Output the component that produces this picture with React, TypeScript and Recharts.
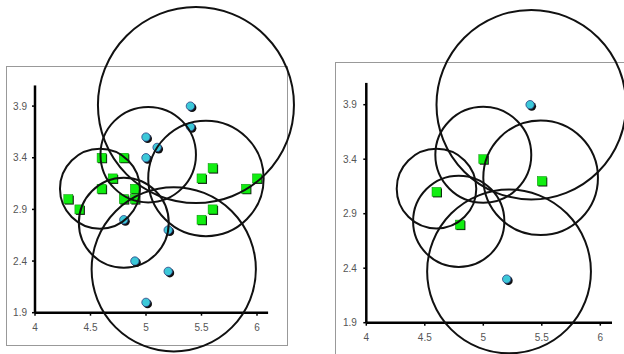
// Two scatter panels: all points with cluster circles (left), centroids only (right)

import { ScatterChart, Scatter, XAxis, YAxis } from 'recharts';

const X_TICKS = [4, 4.5, 5, 5.5, 6];
const Y_TICKS = [1.9, 2.4, 2.9, 3.4, 3.9];
const X_MAX = 6.1;
const Y_MAX = 4.1;

// left panel: all samples
const leftCyanX = [5.4, 5.4, 5.0, 5.1, 5.0, 4.8, 5.2, 4.9, 5.2, 5.0];
const leftCyanY = [3.9, 3.7, 3.6, 3.5, 3.4, 2.8, 2.7, 2.4, 2.3, 2.0];
const leftGreenX = [4.6, 4.8, 4.7, 4.6, 4.9, 4.3, 4.8, 4.9, 4.4, 5.5, 5.6, 6.0, 5.9, 5.6, 5.5];
const leftGreenY = [3.4, 3.4, 3.2, 3.1, 3.1, 3.0, 3.0, 3.0, 2.9, 3.2, 3.3, 3.2, 3.1, 2.9, 2.8];
const leftCircleX = [5.45, 5.02, 5.54, 4.585, 4.8, 5.25];
const leftCircleY = [3.91, 3.43, 3.2, 3.1, 2.77, 2.32];
const leftCircleR = [0.883, 0.43, 0.52, 0.36, 0.405, 0.74];

// right panel: centroids
const rightCyanX = [5.4, 5.2];
const rightCyanY = [3.9, 2.3];
const rightGreenX = [5.0, 5.5, 4.6, 4.8];
const rightGreenY = [3.4, 3.2, 3.1, 2.8];
const rightCircleX = [5.41, 5.0, 5.49, 4.6, 4.79, 5.22];
const rightCircleY = [3.9, 3.44, 3.23, 3.13, 2.83, 2.37];
const rightCircleR = [0.81, 0.41, 0.49, 0.34, 0.39, 0.7];

const pts = (xs: number[], ys: number[]) => xs.map((x, i) => ({ x, y: ys[i] }));
const rings = (xs: number[], ys: number[], rs: number[]) =>
  xs.map((x, i) => ({ x, y: ys[i], r: rs[i] }));

const tickStyle = { fill: '#555', fontSize: 10, fontFamily: '"Liberation Sans", Arial, sans-serif' };

function CyanDot(props: any) {
  const { cx, cy } = props;
  return (
    <g>
      <circle cx={cx + 1.6} cy={cy + 1.6} r={4.4} fill="#111" />
      <circle cx={cx} cy={cy} r={4.2} fill="#3cc8d8" stroke="#2a3f80" strokeWidth={0.8} />
    </g>
  );
}

function GreenSquare(props: any) {
  const { cx, cy } = props;
  return (
    <g>
      <rect x={cx - 3.5} y={cy - 3.5} width={9} height={9} fill="#111" />
      <rect x={cx - 4.5} y={cy - 4.5} width={9} height={9} fill="#11ee11" stroke="#0b8a0b" strokeWidth={0.5} />
    </g>
  );
}

interface PanelProps {
  left: number;
  originX: number;
  originY: number;
  pxX: number;
  pxY: number;
  cyan: { x: number; y: number }[];
  green: { x: number; y: number }[];
  circles: { x: number; y: number; r: number }[];
  labelGap: number;
}

function Panel({ left, originX, originY, pxX, pxY, cyan, green, circles, labelGap }: PanelProps) {
  const W = 312;
  const H = 354;
  const top = originY - (Y_MAX - 1.9) * pxY;
  const right = W - (originX + (X_MAX - 4) * pxX);
  const bottom = H - originY - 30;

  const Ring = (p: any) => (
    <circle cx={p.cx} cy={p.cy} r={p.payload.r * pxX} fill="none" stroke="#111" strokeWidth={2} />
  );

  return (
    <div style={{ position: 'absolute', left, top: 0 }}>
      <ScatterChart width={W} height={H} margin={{ top, right, bottom, left: 0 }}>
        <XAxis
          type="number"
          dataKey="x"
          domain={[4, X_MAX]}
          ticks={X_TICKS}
          height={30}
          axisLine={{ stroke: '#000', strokeWidth: 2.5 }}
          tickLine={{ stroke: '#000', strokeWidth: 1.5 }}
          tickSize={3}
          tickMargin={8}
          tick={tickStyle}
        />
        <YAxis
          type="number"
          dataKey="y"
          domain={[1.9, Y_MAX]}
          ticks={Y_TICKS}
          width={originX}
          axisLine={{ stroke: '#000', strokeWidth: 2.5 }}
          tickLine={{ stroke: '#000', strokeWidth: 1.5 }}
          tickSize={3}
          tickMargin={labelGap}
          tick={tickStyle}
        />
        <Scatter data={cyan} shape={CyanDot} isAnimationActive={false} />
        <Scatter data={green} shape={GreenSquare} isAnimationActive={false} />
        <Scatter data={circles} shape={Ring} isAnimationActive={false} />
      </ScatterChart>
    </div>
  );
}

export default function App() {
  return (
    <div
      style={{
        position: 'absolute',
        left: 0,
        top: 0,
        width: 624,
        height: 354,
        background: '#fff',
        overflow: 'hidden',
      }}
    >
      <div
        style={{
          position: 'absolute',
          left: 6,
          top: 66,
          width: 280,
          height: 278,
          border: '1.5px solid #999',
        }}
      />
      <div
        style={{
          position: 'absolute',
          left: 335,
          top: 62,
          width: 320,
          height: 320,
          border: '1.5px solid #999',
        }}
      />
      <Panel
        left={0}
        originX={35}
        originY={312.7}
        pxX={111}
        pxY={103.3}
        cyan={pts(leftCyanX, leftCyanY)}
        green={pts(leftGreenX, leftGreenY)}
        circles={rings(leftCircleX, leftCircleY, leftCircleR)}
        labelGap={5}
      />
      <Panel
        left={312}
        originX={54.3}
        originY={322.7}
        pxX={117}
        pxY={109}
        cyan={pts(rightCyanX, rightCyanY)}
        green={pts(rightGreenX, rightGreenY)}
        circles={rings(rightCircleX, rightCircleY, rightCircleR)}
        labelGap={6.5}
      />
    </div>
  );
}
